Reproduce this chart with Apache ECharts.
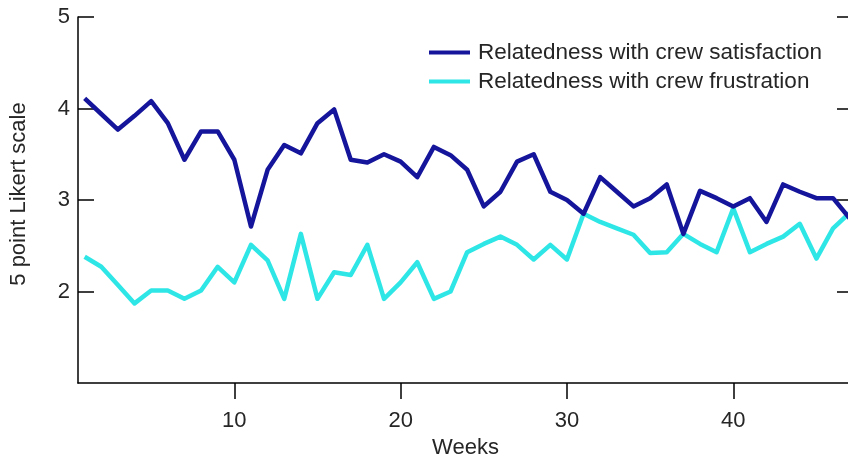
<!DOCTYPE html>
<html>
<head>
<meta charset="utf-8">
<script src="https://cdn.jsdelivr.net/npm/echarts@6/dist/echarts.min.js"></script>
<style>
  html, body { margin: 0; padding: 0; background: #ffffff; }
  #chart { width: 848px; height: 461px; }
</style>
</head>
<body>
<div id="chart"></div>
<script>
// Weekly relatedness scores (5 point Likert scale)
const weeks = [1,2,3,4,5,6,7,8,9,10,11,12,13,14,15,16,17,18,19,20,21,22,23,24,25,26,27,28,29,30,31,32,33,34,35,36,37,38,39,40,41,42,43,44,45,46,47];
const satisfaction = [4.11,3.94,3.77,3.92,4.08,3.84,3.44,3.75,3.75,3.44,2.71,3.33,3.60,3.51,3.84,3.99,3.44,3.41,3.50,3.42,3.25,3.58,3.49,3.33,2.93,3.09,3.42,3.50,3.09,3.00,2.85,3.25,3.09,2.93,3.02,3.17,2.63,3.10,3.02,2.93,3.02,2.76,3.17,3.09,3.02,3.02,2.80];
const frustration = [2.38,2.27,2.07,1.87,2.01,2.01,1.92,2.01,2.27,2.10,2.51,2.34,1.92,2.63,1.92,2.21,2.18,2.51,1.92,2.10,2.32,1.92,2.00,2.43,2.52,2.60,2.51,2.35,2.51,2.35,2.85,2.76,2.69,2.62,2.42,2.43,2.63,2.52,2.43,2.91,2.43,2.52,2.60,2.74,2.36,2.69,2.86];
const seriesNames = ['Relatedness with crew satisfaction', 'Relatedness with crew frustration'];
const xTicks = [10, 20, 30, 40];
const yTicks = [2, 3, 4, 5];

const FONT = 'Liberation Sans';
const TEXT = '#262626';

const toPairs = (vals) => weeks.map((w, i) => [w, vals[i]]);

const chart = echarts.init(document.getElementById('chart'), null, { renderer: 'canvas' });
chart.setOption({
  animation: false,
  backgroundColor: '#ffffff',
  grid: { left: 78, top: 17, width: 775, height: 366, containLabel: false, outerBoundsMode: 'none' },
  legend: {
    orient: 'vertical',
    left: 424,
    top: 36,
    itemWidth: 41,
    itemHeight: 4,
    itemGap: 6,
    icon: 'rect',
    textStyle: { fontFamily: FONT, fontSize: 22.5, color: TEXT, padding: [0, 0, 0, 3] },
    data: seriesNames
  },
  xAxis: {
    type: 'value',
    min: 0.6,
    max: 47.2,
    name: 'Weeks',
    nameLocation: 'middle',
    nameGap: 47,
    nameTextStyle: { fontFamily: FONT, fontSize: 22, color: TEXT },
    axisLine: { show: true, lineStyle: { color: '#000', width: 1.5 } },
    axisTick: { show: true, inside: false, length: 16, customValues: xTicks, lineStyle: { color: '#000', width: 1.5 } },
    axisLabel: { margin: 27, fontFamily: FONT, fontSize: 22, color: TEXT, customValues: xTicks },
    splitLine: { show: false }
  },
  yAxis: [
    {
      type: 'value',
      min: 1,
      max: 5,
      interval: 1,
      position: 'left',
      name: '5 point Likert scale',
      nameLocation: 'middle',
      nameRotate: 90,
      nameGap: 48,
      nameTextStyle: { fontFamily: FONT, fontSize: 22, color: TEXT, padding: [0, 0, 0, 12] },
      axisLine: { show: true, lineStyle: { color: '#000', width: 1.5 } },
      axisTick: { show: true, inside: true, length: 16, customValues: yTicks, lineStyle: { color: '#000', width: 1.5 } },
      axisLabel: { margin: 8, fontFamily: FONT, fontSize: 22, color: TEXT, customValues: yTicks },
      splitLine: { show: false }
    },
    {
      type: 'value',
      min: 1,
      max: 5,
      interval: 1,
      position: 'right',
      axisLine: { show: true, lineStyle: { color: '#000', width: 1.5 } },
      axisTick: { show: true, inside: true, length: 16, customValues: yTicks, lineStyle: { color: '#000', width: 1.5 } },
      axisLabel: { show: false },
      splitLine: { show: false }
    }
  ],
  series: [
    {
      name: seriesNames[0],
      type: 'line',
      data: toPairs(satisfaction),
      showSymbol: false,
      z: 3,
      color: '#15159c',
      lineStyle: { width: 4.5, color: '#15159c', join: 'round' }
    },
    {
      name: seriesNames[1],
      type: 'line',
      data: toPairs(frustration),
      showSymbol: false,
      z: 2,
      color: '#2fe6e6',
      lineStyle: { width: 4.5, color: '#2fe6e6', join: 'round' }
    }
  ]
});
</script>
</body>
</html>
